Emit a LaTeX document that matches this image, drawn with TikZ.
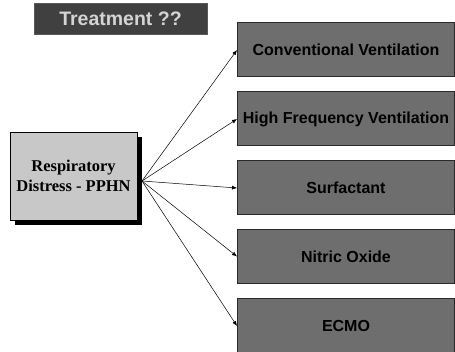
\documentclass[tikz,border=0pt]{standalone}
\usepackage{fontspec}
\setmainfont{Liberation Sans}
\newfontfamily\serifbold{Liberation Serif}[BoldFont={Liberation Serif Bold}]
\usetikzlibrary{arrows.meta}
\definecolor{titlefill}{HTML}{404040}
\definecolor{titletext}{HTML}{D4D4D4}
\definecolor{boxfill}{HTML}{6E6E6E}
\definecolor{boxline}{HTML}{2A2A2A}
\definecolor{srcfill}{HTML}{C8C8C8}
\tikzset{
  optbox/.style={draw=boxline, line width=1pt, fill=boxfill, minimum width=217pt, minimum height=54pt, anchor=west, inner sep=0pt,
    font=\fontsize{16}{18}\selectfont\bfseries, text=black},
  conn/.style={line width=0.5pt, -{Latex[length=5pt,width=4pt]}},
}
\begin{document}
\begin{tikzpicture}[x=1pt,y=-1pt]
\useasboundingbox (0,0) rectangle (455,352);
% title
\node[draw=gray!70!black, line width=0.8pt, fill=titlefill, minimum width=173pt, minimum height=31pt, inner sep=0pt,
  font=\fontsize{19.5}{22}\selectfont\bfseries, text=titletext] (title) at (120.5,18.5) {Treatment ??};
% source box with shadow
\fill[black] (15,137) rectangle (142,225);
\node[draw=black, line width=0.8pt, fill=srcfill, minimum width=127pt, minimum height=88pt, inner sep=0pt, align=center,
  font=\serifbold\fontsize{16.5}{20}\selectfont\bfseries] (src) at (73.5,176) {Respiratory\\Distress - PPHN};
\coordinate (start) at (142,181);
% option boxes
\node[optbox] (o1) at (237,50) {Conventional Ventilation};
\node[optbox] (o2) at (237,119) {High Frequency Ventilation};
\node[optbox] (o3) at (237,188) {Surfactant};
\node[optbox] (o4) at (237,256.5) {Nitric Oxide};
\node[optbox] (o5) at (237,326) {ECMO};
% connectors
\foreach \n in {o1,o2,o3,o4,o5} \draw[conn] (start) -- (\n.west);
\end{tikzpicture}
\end{document}
